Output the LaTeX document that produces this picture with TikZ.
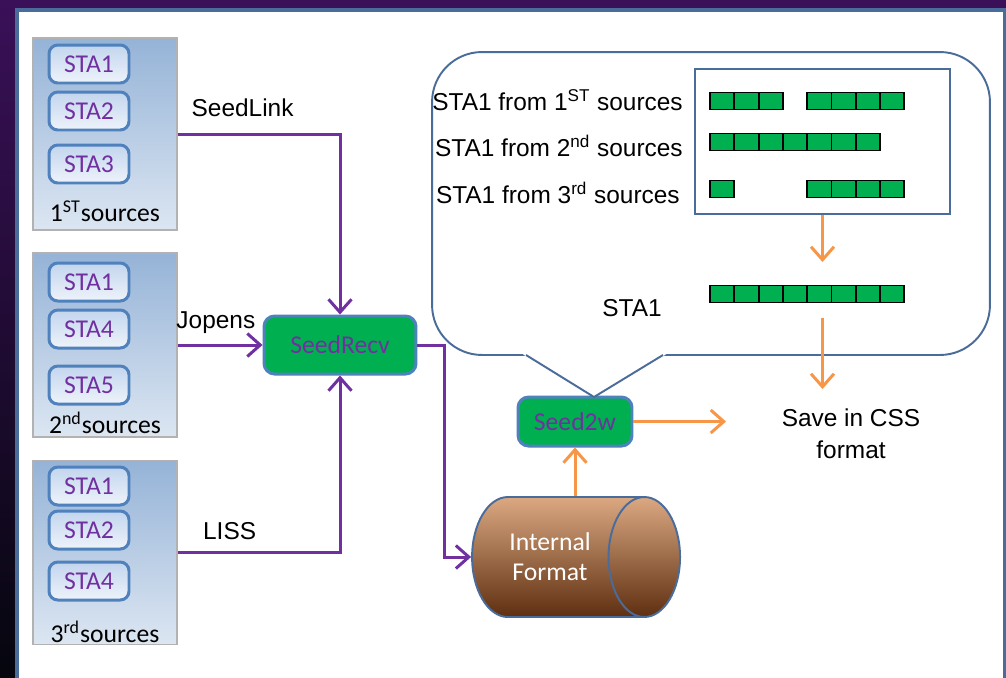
\documentclass[tikz,border=0pt]{standalone}
\usepackage{fontspec}
\setmainfont{Liberation Sans}
\newfontfamily\carlito{Carlito}
\usetikzlibrary{arrows.meta,shapes.geometric}

\definecolor{stapurple}{HTML}{7030A0}
\definecolor{okgreen}{HTML}{00B050}
\definecolor{edgeblue}{HTML}{4F81BD}
\definecolor{frameblue}{HTML}{4A6C9B}
\definecolor{floworange}{HTML}{F79646}
\definecolor{grptop}{HTML}{95B3D7}
\definecolor{grpbot}{HTML}{DCE6F2}
\definecolor{statop}{HTML}{C2D5EE}
\definecolor{stabot}{HTML}{EEF3FA}
\definecolor{bgtop}{HTML}{3A1058}
\definecolor{bgbot}{HTML}{05060E}
\definecolor{dbtop}{HTML}{DBA882}
\definecolor{dbmid}{HTML}{A4552A}
\definecolor{dbbot}{HTML}{5E2F10}

\tikzset{
  txt/.style={text=black, font=\fontsize{13.9}{18}\selectfont},
  cal/.style={font=\carlito\fontsize{14.6}{17}\selectfont},
  grp/.style={draw=gray!60, line width=0.8pt, top color=grptop, bottom color=grpbot, minimum width=2.88cm},
  sta/.style={cal, text=stapurple, draw=edgeblue, line width=1.7pt, rounded corners=5pt,
    top color=statop, bottom color=stabot, minimum width=1.6cm, minimum height=0.76cm, inner sep=0pt},
  proc/.style={cal, text=stapurple, draw=edgeblue, line width=1.7pt, rounded corners=6pt, fill=okgreen, inner sep=0pt},
  cell/.style={draw=black, line width=1.1pt, fill=okgreen, minimum width=0.486cm, minimum height=0.34cm, inner sep=0pt},
  feed/.style={stapurple, line width=1.7pt, -{Straight Barb[length=0.26cm,width=0.46cm]}},
  flow/.style={floworange, line width=1.7pt, -{Straight Barb[length=0.26cm,width=0.46cm]}},
  bubbleline/.style={frameblue, line width=1.1pt}
}

\begin{document}
\begin{tikzpicture}[x=0.02cm, y=-0.02cm]
\useasboundingbox (0,0) rectangle (1006,677);
\clip (0,0) rectangle (1006,677);
\shade[top color=bgtop, bottom color=bgbot] (0,0) rectangle (1006,677);
\draw[frameblue, line width=1.8pt, fill=white] (17,10) rectangle (1004.5,700);

% sources
\node[grp, minimum height=3.84cm] (grp1) at (105,134) {};
\node[sta] (s11) at (89,64) {STA1};
\node[sta] (s12) at (89,111) {STA2};
\node[sta] (s13) at (89,164) {STA3};
\node[cal] (lab1) at (105,211) {1\textsuperscript{ST}sources};

\node[grp, minimum height=3.68cm] (grp2) at (105,345) {};
\node[sta] (s21) at (89,282) {STA1};
\node[sta] (s22) at (89,329) {STA4};
\node[sta] (s23) at (89,385) {STA5};
\node[cal] (lab2) at (105,423) {2\textsuperscript{nd}sources};

\node[grp, minimum height=3.68cm] (grp3) at (105,552.5) {};
\node[sta] (s31) at (89,486) {STA1};
\node[sta] (s32) at (89,530) {STA2};
\node[sta] (s33) at (89,581) {STA4};
\node[cal] (lab3) at (105,632) {3\textsuperscript{rd}sources};

% receiver and storage
\node[proc, minimum width=3.04cm, minimum height=1.16cm] (recv) at (340,345) {SeedRecv};
\node[proc, minimum width=2.28cm, minimum height=0.98cm] (w2) at (575,421.5) {Seed2w};
\node[cylinder, shape aspect=1.2, draw=frameblue, line width=1.1pt,
  top color=dbtop, middle color=dbmid, bottom color=dbbot,
  minimum width=2.4cm, minimum height=4.16cm, cal, text=white, align=center] (store) at (550,557) {Internal\\Format};

\draw[feed] (grp1.east) -| node[txt, pos=0.2, yshift=0.52cm] (lblLink) {SeedLink} (recv.north);
\draw[feed] (grp2.east) -- node[txt, pos=0.45, yshift=0.44cm] (lblJop) {Jopens} (recv.west);
\draw[feed] (grp3.east) -| node[txt, pos=0.16, yshift=0.42cm] (lblLiss) {LISS} (recv.south);
\draw[feed] (recv.east) -- ++(27,0) |- (store.west);

% merge bubble
\node[draw=frameblue, line width=1.1pt, fill=white, rounded corners=1cm,
  minimum width=11.16cm, minimum height=6.06cm] (bubble) at (711,203.5) {};
\coordinate (tip) at (594,397);
\fill[white] (520,352) -- (527,357) -- (tip) -- (662,357) -- (669,352) -- cycle;
\draw[bubbleline] (526,355) -- (tip) -- (663,355);
\node[draw=frameblue, line width=1.1pt, minimum width=5.1cm, minimum height=2.9cm] (inbox) at (822.5,141.5) {};

\node[txt, anchor=east, inner sep=0pt] (src1) at (683,100) {STA1 from 1\textsuperscript{ST} sources};
\node[txt, anchor=east, inner sep=0pt] (src2) at (683,146) {STA1 from 2\textsuperscript{nd} sources};
\node[txt, anchor=east, inner sep=0pt] (src3) at (680,193) {STA1 from 3\textsuperscript{rd} sources};
\node[txt] (merged) at (632,308) {STA1};

\foreach \i in {1,2,3,5,6,7,8}
  \node[cell] (a\i) at ({710+24.3*(\i-0.5)},101) {};
\foreach \i in {1,...,7}
  \node[cell] (b\i) at ({710+24.3*(\i-0.5)},142) {};
\foreach \i in {1,5,6,7,8}
  \node[cell] (c\i) at ({710+24.3*(\i-0.5)},189) {};
\foreach \i in {1,...,8}
  \node[cell] (m\i) at ({710+24.3*(\i-0.5)},294) {};

\node[txt, align=center] (save) at (851,434) {Save in CSS\\format};
\coordinate (fuseIn) at (822.5,262);
\coordinate (fuseOut) at (822.5,318);
\coordinate (saveIn) at (822.5,389);
\coordinate (saveOut) at (726,421.5);

\draw[flow] (inbox.south) -- (fuseIn);
\draw[flow] (fuseOut) -- (saveIn);
\draw[flow] (w2.south |- store.north) -- (w2.south);
\draw[flow] (w2.east) -- (saveOut);
\end{tikzpicture}
\end{document}
